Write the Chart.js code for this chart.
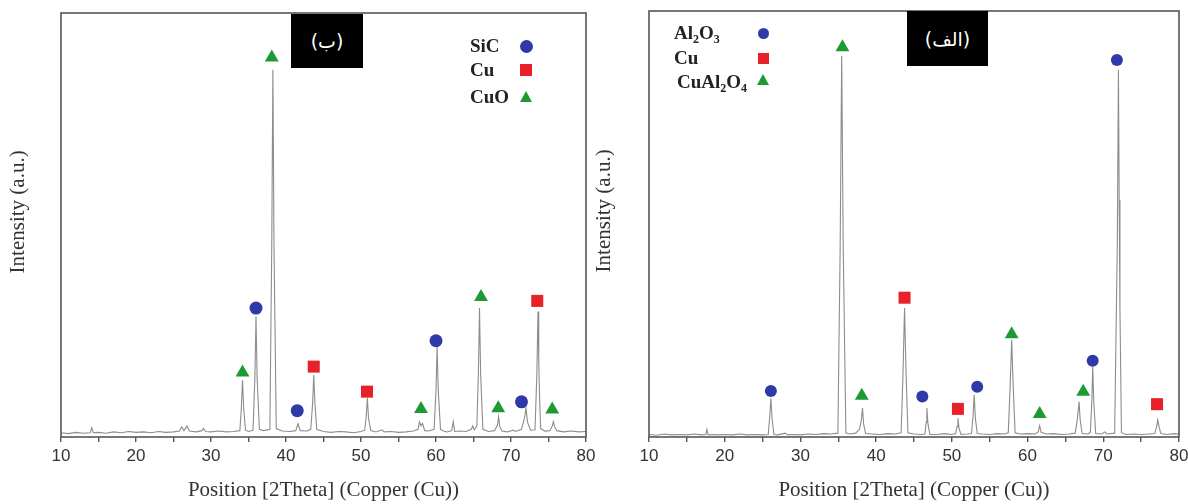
<!DOCTYPE html>
<html>
<head>
<meta charset="utf-8">
<script src="https://cdn.jsdelivr.net/npm/chart.js@4.4.1/dist/chart.umd.min.js"></script>
<style>
  body { margin: 0; background: #fff; width: 1188px; height: 504px; position: relative; overflow: hidden; }
  .wrap { position: absolute; top: 0; height: 504px; }
  .tag { position: absolute; background: #000; color: #fff; font: 19px "DejaVu Sans"; display: flex; align-items: center; justify-content: center; }
  .lab { position: absolute; font: bold 19px "Liberation Serif"; color: #222; white-space: nowrap; line-height: 20px; }
  .lab sub { font-size: 12px; vertical-align: -4px; line-height: 0; }
  .dot { position: absolute; border-radius: 50%; background: #2f3aa8; }
  .sq { position: absolute; background: #e8202a; }
  .tri { position: absolute; width: 0; height: 0; border-left: 6.5px solid transparent; border-right: 6.5px solid transparent; border-bottom: 11px solid #1e9a33; }
</style>
</head>
<body>
<div class="wrap" style="left:0;width:600px"><canvas id="chartB"></canvas></div>
<div class="wrap" style="left:590px;width:598px"><canvas id="chartA"></canvas></div>

<!-- panel labels -->
<div class="tag" style="left:291px;top:14px;width:72px;height:54px" dir="rtl">(ب)</div>
<div class="tag" style="left:907px;top:11px;width:81px;height:55px" dir="rtl">(الف)</div>

<!-- legend, left panel -->
<div class="lab" style="left:470px;top:36px">SiC</div>
<div class="lab" style="left:470px;top:60px">Cu</div>
<div class="lab" style="left:470px;top:87px">CuO</div>
<div class="dot" style="left:520px;top:40px;width:13px;height:13px"></div>
<div class="sq" style="left:520px;top:64px;width:12px;height:12px"></div>
<div class="tri" style="left:519.5px;top:91px"></div>

<!-- legend, right panel -->
<div class="lab" style="left:674px;top:23px">Al<sub>2</sub>O<sub>3</sub></div>
<div class="lab" style="left:674px;top:48px">Cu</div>
<div class="lab" style="left:677px;top:72px">CuAl<sub>2</sub>O<sub>4</sub></div>
<div class="dot" style="left:758px;top:28px;width:11px;height:11px"></div>
<div class="sq" style="left:758px;top:53px;width:11px;height:11px"></div>
<div class="tri" style="left:757px;top:74px"></div>

<script>
"use strict";

// x range and tick labels
const xMin = 10;
const xMax = 80;
const xLabels = [10, 20, 30, 40, 50, 60, 70, 80];

// panel (ب): measured trace, [2theta, intensity]
const traceB = [
  [10, 1.0], [11, 0.8], [12, 1.1], [13, 0.9], [13.9, 1.0], [14.1, 2.2], [14.3, 1.0], [15, 1.1],
  [16, 0.9], [17, 1.2], [18, 1.0], [19, 1.3], [20, 1.1], [21, 1.2], [22, 1.0], [23, 1.3],
  [24, 1.1], [25, 1.2], [25.8, 1.4], [26.1, 2.4], [26.4, 1.5], [26.8, 2.6], [27.1, 1.4],
  [28, 1.2], [28.8, 1.5], [29, 2.0], [29.3, 1.3], [30, 1.2], [31, 1.4], [32, 1.2], [33, 1.3],
  [33.85, 1.5], [34.05, 7], [34.2, 13.4], [34.35, 7], [34.6, 1.6],
  [35.0, 1.3], [35.6, 1.6], [35.85, 14], [36.0, 28.4], [36.15, 14], [36.45, 1.8],
  [37.0, 1.5], [37.85, 1.8], [38.1, 45], [38.25, 86.6], [38.4, 45], [38.7, 2.0],
  [39.5, 1.4], [40.5, 1.3], [41.3, 1.5], [41.6, 3.1], [41.9, 1.5], [42.8, 1.4],
  [43.3, 1.8], [43.55, 8], [43.7, 14.6], [43.85, 8], [44.1, 1.8],
  [45, 1.3], [46, 1.1], [47, 1.3], [48, 1.2], [49, 1.0], [50, 1.3],
  [50.5, 1.6], [50.7, 5], [50.85, 9.2], [51.0, 4.5], [51.3, 1.5],
  [52, 1.2], [52.8, 1.7], [53.1, 1.2], [54, 1.3], [55, 1.1], [56, 1.2], [57, 1.4],
  [57.6, 1.8], [57.8, 3.6], [58.0, 2.6], [58.2, 3.2], [58.5, 1.5],
  [59, 1.4], [59.75, 1.8], [60.0, 11], [60.15, 21.3], [60.3, 11], [60.6, 1.8],
  [61, 1.4], [61.5, 1.2], [62.1, 1.5], [62.3, 3.6], [62.5, 1.3], [63, 1.4], [64, 1.3],
  [64.7, 1.8], [64.9, 2.6], [65.1, 1.7], [65.45, 2.6], [65.65, 15], [65.8, 30.4], [65.95, 15], [66.25, 1.8],
  [67, 1.3], [67.8, 1.5], [68.2, 2.8], [68.35, 4.8], [68.5, 2.5], [68.8, 1.4],
  [69.5, 1.2], [70.3, 1.6], [70.6, 1.3], [71.4, 1.8], [71.8, 4.5], [72.0, 6.8], [72.2, 3.5], [72.6, 1.6],
  [73.2, 1.7], [73.45, 15], [73.6, 29.6], [73.7, 18], [73.8, 10], [73.95, 2],
  [74.5, 1.4], [75.2, 1.5], [75.5, 2.6], [75.65, 3.6], [75.8, 2.5], [76.1, 1.5],
  [77, 1.2], [78, 1.4], [79, 1.2], [80, 1.3]
];

// panel (ب): phase markers
const sicB = [[36.0, 30.4], [41.5, 6.2], [60.0, 22.7], [71.4, 8.3]];
const cuB = [[43.7, 16.6], [50.8, 10.7], [73.5, 32.1]];
const cuoB = [[34.2, 15.2], [38.1, 89.5], [58.0, 6.6], [66.0, 33.0], [68.3, 6.8], [75.5, 6.5]];

// panel (الف): measured trace
const traceA = [
  [10, 0.6], [11, 0.4], [12, 0.7], [13, 0.5], [14, 0.6], [15, 0.5], [16, 0.7], [17, 0.5],
  [17.5, 0.6], [17.65, 1.8], [17.8, 0.5], [18.5, 0.6], [19, 0.5], [20, 0.6], [21, 0.5],
  [22, 0.7], [23, 0.5], [24, 0.6], [25, 0.5],
  [25.75, 0.6], [25.95, 5], [26.1, 9.1], [26.25, 4.5], [26.5, 0.6],
  [27, 0.5], [28, 0.9], [28.3, 0.5], [29, 0.6], [30, 0.5], [31, 0.7], [32, 0.6], [33, 0.8], [34, 0.7],
  [34.95, 0.9], [35.25, 45], [35.45, 89.5], [35.65, 45], [36.0, 1.0],
  [36.5, 0.7], [37.3, 0.9], [37.8, 1.8], [38.05, 4], [38.2, 6.8], [38.35, 3], [38.6, 0.8],
  [39.5, 0.7], [40.5, 0.6], [41.5, 0.8], [42.5, 0.7],
  [43.3, 1.0], [43.55, 15], [43.75, 30.3], [43.95, 15], [44.2, 1.0],
  [45, 0.7], [46, 0.6], [46.45, 0.7], [46.6, 3.5], [46.7, 6.8], [46.85, 3], [47.1, 0.6],
  [48, 0.6], [49, 0.8], [50, 0.6], [50.5, 0.8], [50.7, 2.5], [50.8, 4.4], [50.95, 2], [51.2, 0.6],
  [52, 0.7], [52.6, 0.8], [52.8, 5], [52.95, 9.9], [53.1, 4.5], [53.35, 0.8],
  [54, 0.7], [55, 0.6], [56, 0.8], [57, 0.7],
  [57.45, 1.0], [57.7, 12], [57.9, 22.8], [58.1, 12], [58.35, 1.0],
  [59, 0.7], [60, 0.8], [61, 0.7], [61.4, 1.2], [61.6, 2.6], [61.8, 1.1],
  [62.5, 0.7], [63.5, 0.8], [64.5, 0.6], [65.5, 0.7],
  [66.3, 0.9], [66.6, 4.5], [66.8, 8.3], [66.95, 4], [67.2, 0.8],
  [68.0, 0.7], [68.3, 1.2], [68.5, 9], [68.6, 16.5], [68.75, 8], [69.0, 0.8],
  [69.8, 0.7], [70.2, 1.2], [70.5, 0.7], [71.5, 0.9],
  [71.85, 45], [72.0, 86.2], [72.1, 55.6], [72.2, 30], [72.4, 1.0],
  [73, 0.6], [74, 0.7], [75, 0.6], [76, 0.7],
  [76.8, 0.8], [77.05, 2.5], [77.2, 4.0], [77.35, 2.5], [77.6, 0.8],
  [78.5, 0.6], [79.3, 0.8], [80, 0.7]
];

// panel (الف): phase markers
const al2o3A = [[26.1, 10.8], [46.1, 9.5], [53.35, 11.8], [68.6, 17.9], [71.8, 88.5]];
const cuA = [[43.75, 32.7], [50.8, 6.6], [77.1, 7.7]];
const cual2o4A = [[35.55, 91.5], [38.1, 9.7], [57.9, 24.1], [61.6, 5.4], [67.35, 10.6]];

const blue = "#2f3aa8";
const red = "#e8202a";
const green = "#1e9a33";

// leading spaces nudge the rotated title a little upward, as in the original
const yTitle = "\u00A0\u00A0\u00A0\u00A0\u00A0Intensity (a.u.)";

const toPts = arr => arr.map(([x, y]) => ({ x, y }));

// draws the full box around the plot area
const framePlugin = {
  id: "frame",
  afterDraw(chart) {
    const a = chart.chartArea;
    const ctx = chart.ctx;
    ctx.save();
    ctx.strokeStyle = "#555";
    ctx.lineWidth = 1.6;
    ctx.strokeRect(a.left, a.top, a.right - a.left, a.bottom - a.top);
    ctx.restore();
  }
};

function markerSet(data, style, color, radius) {
  return {
    data: toPts(data),
    showLine: false,
    pointStyle: style,
    pointRadius: radius,
    backgroundColor: color,
    borderColor: color,
    borderWidth: 0,
    order: 0
  };
}

function makeChart(id, trace, markers, lay) {
  const el = document.getElementById(id);
  el.width = lay.w;
  el.height = 504;
  return new Chart(el, {
    type: "scatter",
    data: {
      datasets: [
        {
          data: toPts(trace),
          showLine: true,
          pointRadius: 0,
          borderColor: "#8c8c8c",
          borderWidth: 1.1,
          tension: 0,
          order: 1
        },
        ...markers
      ]
    },
    options: {
      responsive: false,
      animation: false,
      events: [],
      layout: { padding: { top: lay.top, right: lay.right, left: 0, bottom: 0 } },
      plugins: { legend: { display: false }, tooltip: { enabled: false } },
      scales: {
        x: {
          type: "linear",
          min: xMin,
          max: xMax,
          afterFit: s => { s.height = 67; s.paddingLeft = 0; s.paddingRight = 0; },
          afterBuildTicks: s => {
            s.ticks = [];
            for (let v = xMin; v <= xMax; v += 5) s.ticks.push({ value: v });
          },
          ticks: {
            autoSkip: false,
            maxRotation: 0,
            padding: 4,
            color: "#333",
            font: { family: "Liberation Sans", size: 17 },
            callback: v => (xLabels.includes(v) ? String(v) : "")
          },
          grid: { drawOnChartArea: false, drawTicks: true, tickLength: 5, color: "#555", lineWidth: 1.4 },
          border: { display: false },
          title: {
            display: true,
            text: "Position [2Theta] (Copper (Cu))",
            color: "#333",
            font: { family: "Liberation Serif", size: 21 },
            padding: { top: 0, bottom: 1 }
          }
        },
        y: {
          min: 0,
          max: 100,
          afterFit: s => { s.width = lay.yw; s.paddingTop = 0; s.paddingBottom = 0; },
          ticks: { display: false },
          grid: { display: false },
          border: { display: false },
          title: {
            display: true,
            text: yTitle,
            color: "#333",
            font: { family: "Liberation Serif", size: 21 },
            padding: { top: lay.tp, bottom: 0 }
          }
        }
      }
    },
    plugins: [framePlugin]
  });
}

makeChart("chartB", traceB, [
  markerSet(sicB, "circle", blue, 6.5),
  markerSet(cuB, "rect", red, 8.5),
  markerSet(cuoB, "triangle", green, 8)
], { w: 600, top: 13, right: 14, yw: 61, tp: 6 });

makeChart("chartA", traceA, [
  markerSet(al2o3A, "circle", blue, 6),
  markerSet(cuA, "rect", red, 8.5),
  markerSet(cual2o4A, "triangle", green, 8)
], { w: 598, top: 11, right: 9, yw: 59, tp: 2 });
</script>
</body>
</html>
